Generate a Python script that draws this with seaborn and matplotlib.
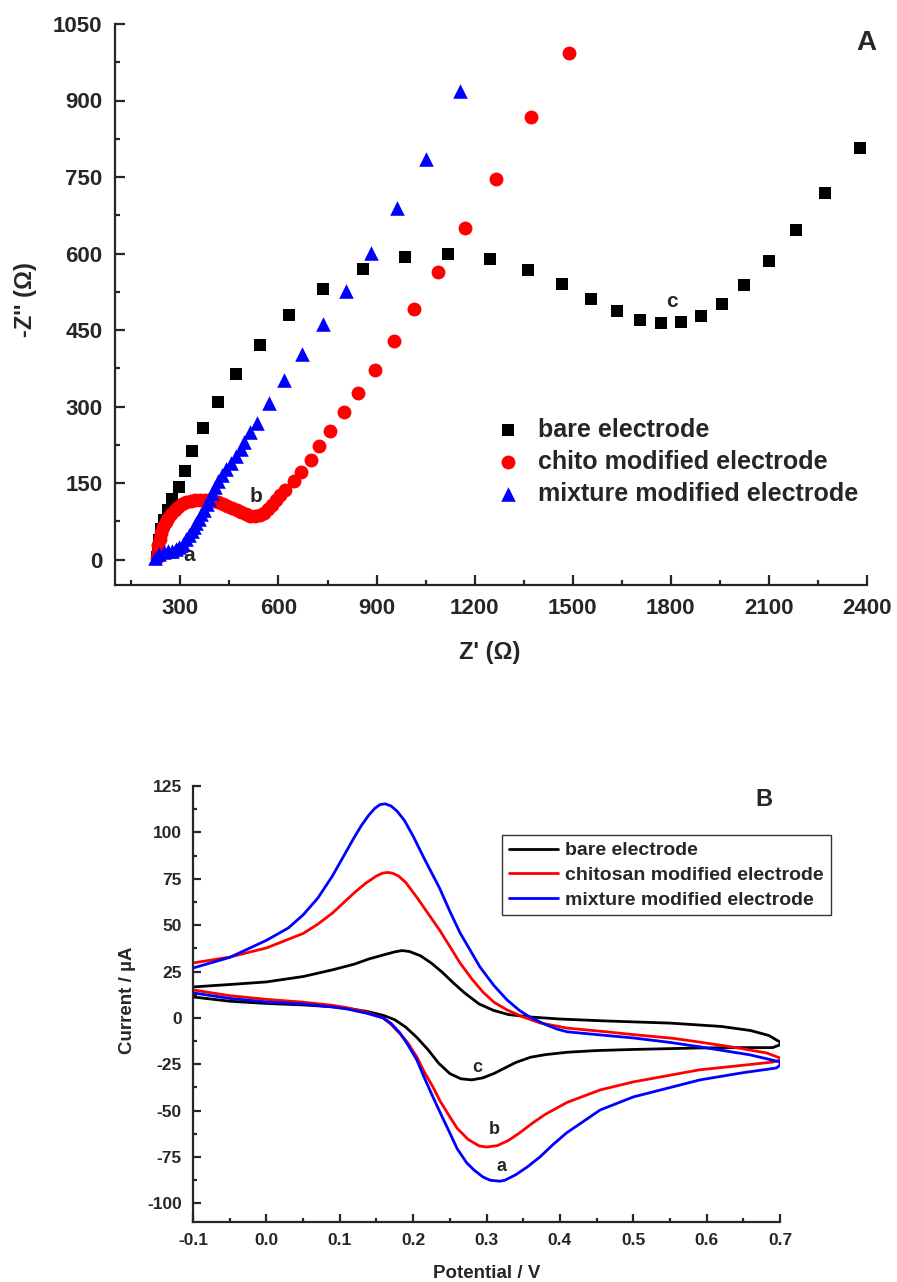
import numpy as np
import pandas as pd
import matplotlib
matplotlib.use("Agg")
import matplotlib.pyplot as plt
import seaborn as sns
from matplotlib.ticker import MultipleLocator

# ---------------- Panel A data (Nyquist) ----------------
bare_x = [227, 230, 236, 242, 251, 263, 275, 297, 315, 337, 370, 416, 471, 542, 631, 735, 857,
          986, 1117, 1246, 1362, 1466, 1555, 1635, 1705, 1769, 1830, 1892, 1956, 2023, 2100,
          2182, 2271, 2378]
bare_y = [4, 20, 39, 59, 78, 98, 118, 143, 174, 212, 257, 308, 364, 421, 480, 531, 570,
          594, 599, 590, 568, 541, 511, 488, 470, 464, 466, 478, 501, 539, 586,
          646, 719, 807]

chito_x = [227, 230, 233, 237, 242, 248, 255, 263, 272, 282, 293, 305, 318, 332, 346, 360, 374,
           388, 402, 416, 430, 444, 458, 472, 486, 500, 514, 528, 542, 556, 568, 580, 592, 604,
           621, 649, 670, 698, 725, 759, 799, 842, 894, 952, 1016, 1087, 1169, 1264, 1371, 1488]
chito_y = [3, 15, 28, 40, 52, 63, 73, 82, 90, 97, 103, 108, 112, 115, 117, 117, 117,
           116, 114, 112, 109, 105, 101, 97, 93, 89, 86, 85, 87, 92, 99, 107, 116, 126,
           137, 153, 172, 196, 223, 251, 290, 327, 372, 429, 492, 564, 650, 746, 868, 993]

mix_x = [222, 236, 250, 262, 275, 287, 297, 308, 318, 326, 334, 342, 349, 356, 364, 372, 380,
         389, 398, 407, 416, 428, 441, 456, 471, 484, 496, 514, 533, 572, 618, 673, 735, 805,
         882, 964, 1050, 1154]
mix_y = [3, 10, 14, 16, 17, 20, 24, 31, 40, 48, 56, 64, 72, 80, 89, 98, 108,
         119, 131, 142, 154, 166, 178, 190, 203, 217, 231, 250, 268, 307, 351, 402, 462, 527,
         601, 690, 786, 919]

labels_A = ["bare electrode", "chito modified electrode", "mixture modified electrode"]

# ---------------- Panel B data (CV) ----------------
bare_E = [-0.1, -0.05, 0.0, 0.05, 0.09, 0.12, 0.14, 0.16, 0.175, 0.185, 0.195, 0.21, 0.225,
          0.24, 0.255, 0.27, 0.29, 0.31, 0.33, 0.36, 0.4, 0.46, 0.55, 0.62, 0.66, 0.685, 0.7,
          0.7, 0.69, 0.65, 0.59, 0.5, 0.45, 0.41, 0.38, 0.36, 0.34, 0.325, 0.31, 0.295, 0.28,
          0.265, 0.25, 0.235, 0.22, 0.205, 0.19, 0.175, 0.16, 0.137, 0.11, 0.09, 0.05, 0.0,
          -0.05, -0.1]
bare_I = [16.7, 18.0, 19.4, 22.3, 25.9, 29.0, 31.8, 34.0, 35.6, 36.3, 35.8, 33.5, 29.5,
          24.5, 18.8, 13.5, 7.5, 4.0, 1.8, 0.5, -0.6, -1.6, -2.8, -4.6, -6.8, -9.5, -13.0,
          -14.5, -16.0, -16.0, -16.2, -17.0, -17.6, -18.5, -19.8, -21.2, -24.0, -27.0, -30.0,
          -32.3, -33.4, -32.8, -30.0, -24.5, -17.0, -10.5, -5.0, -1.0, 1.3, 3.5, 5.2, 6.0,
          7.0, 7.8, 9.0, 11.3]

chito_E = [-0.1, -0.05, 0.0, 0.05, 0.07, 0.09, 0.105, 0.12, 0.135, 0.15, 0.158, 0.165, 0.172,
           0.18, 0.19, 0.205, 0.22,
           0.236, 0.25, 0.264, 0.28, 0.295, 0.31, 0.328, 0.35, 0.373, 0.41, 0.464, 0.5, 0.554,
           0.59, 0.64, 0.682, 0.7,
           0.7, 0.69, 0.65, 0.59, 0.5, 0.455, 0.41, 0.38, 0.363, 0.345, 0.33, 0.315, 0.3, 0.29,
           0.275, 0.26, 0.25, 0.237, 0.227, 0.215, 0.205, 0.192, 0.182, 0.17, 0.159, 0.137,
           0.11, 0.09, 0.05, 0.0, -0.05, -0.1]
chito_I = [29.6, 32.8, 37.7, 45.5, 50.5, 56.5, 62.0, 67.5, 72.5, 76.5, 78.0, 78.4, 78.0,
           76.5, 73.0, 65.0, 56.5,
           47.4, 38.5, 29.6, 21.0, 14.0, 8.5, 4.3, 0.5, -2.7, -5.5, -7.5, -9.0, -11.0,
           -13.0, -16.0, -18.9, -21.6,
           -22.8, -23.8, -25.5, -28.0, -34.5, -38.8, -45.5, -52.0, -56.6, -62.0, -66.0, -68.8,
           -69.6, -69.0, -65.5, -59.5, -53.3, -45.0, -37.2, -29.0, -21.0, -13.0, -8.5, -3.5,
           0.0, 3.0, 5.5, 6.8, 8.5, 10.0, 12.0, 15.1]

mix_E = [-0.1, -0.05, 0.0, 0.03, 0.05, 0.07, 0.09, 0.105, 0.12, 0.13, 0.14, 0.148, 0.155,
         0.162, 0.17, 0.178, 0.188, 0.2, 0.215, 0.236, 0.25, 0.264, 0.28, 0.291, 0.31, 0.328,
         0.345, 0.359, 0.38, 0.396, 0.41, 0.464, 0.5, 0.55, 0.591, 0.659, 0.7,
         0.7, 0.695, 0.65, 0.591, 0.5, 0.455, 0.409, 0.39, 0.373, 0.355, 0.34, 0.325, 0.318,
         0.305, 0.295, 0.283, 0.273, 0.26, 0.25, 0.238, 0.227, 0.215, 0.205, 0.192, 0.182,
         0.17, 0.159, 0.137, 0.11, 0.09, 0.05, 0.0, -0.05, -0.1]
mix_I = [26.9, 32.6, 41.8, 48.5, 55.5, 64.5, 76.5, 87.0, 97.5, 104.0, 109.5, 113.0, 115.0,
         115.4, 114.2, 111.5, 106.5, 98.0, 86.0, 70.0, 57.5, 45.8, 35.0, 27.5, 17.5, 9.7,
         4.0, 0.5, -3.5, -6.0, -7.5, -9.5, -10.8, -13.2, -15.6, -19.9, -23.7,
         -25.5, -27.0, -29.5, -33.4, -42.6, -49.6, -62.0, -68.5, -74.9, -80.5, -84.5, -87.5,
         -88.0, -87.5, -85.7, -82.0, -78.1, -70.5, -62.0, -52.0, -42.6, -32.0, -22.6, -14.0,
         -8.1, -3.0, 0.0, 2.5, 4.8, 5.9, 7.5, 8.6, 10.5, 13.5]

labels_B = ["bare electrode", "chitosan modified electrode", "mixture modified electrode"]

# ---------------- style ----------------
sns.set_style("ticks")
plt.rcParams['font.family'] = ['Liberation Sans', 'DejaVu Sans']
plt.rcParams['font.weight'] = 'bold'
plt.rcParams['axes.labelweight'] = 'bold'
plt.rcParams['axes.linewidth'] = 1.6
plt.rcParams['axes.unicode_minus'] = False
plt.rcParams['xtick.direction'] = 'in'
plt.rcParams['ytick.direction'] = 'in'

W, H = 897, 1282
fig = plt.figure(figsize=(W / 100, H / 100), dpi=100)

axA = fig.add_axes([115 / W, 1 - 585 / H, 752 / W, 561 / H])
axB = fig.add_axes([193 / W, 1 - 1222 / H, 587 / W, 436 / H])

# ---------------- Panel A ----------------
sns.scatterplot(x=bare_x, y=bare_y, marker='s', color='black', s=85, linewidth=0,
                ax=axA, label=labels_A[0], zorder=3)
sns.scatterplot(x=chito_x, y=chito_y, marker='o', color='#ff0000', s=100, linewidth=0,
                ax=axA, label=labels_A[1], zorder=4)
sns.scatterplot(x=mix_x, y=mix_y, marker='^', color='#0000ff', s=110, linewidth=0,
                ax=axA, label=labels_A[2], zorder=5)

axA.set_xlim(100, 2400)
axA.set_ylim(-50, 1050)
axA.xaxis.set_major_locator(MultipleLocator(300))
axA.xaxis.set_minor_locator(MultipleLocator(150))
axA.yaxis.set_major_locator(MultipleLocator(150))
axA.yaxis.set_minor_locator(MultipleLocator(75))
axA.tick_params(which='major', length=7, width=1.6, labelsize=16, pad=9)
axA.tick_params(which='minor', length=3.5, width=1.6)
for lab in axA.get_xticklabels() + axA.get_yticklabels():
    lab.set_fontweight('bold')
axA.set_xlabel("Z' (\u03a9)", fontsize=17, fontweight='bold')
axA.set_ylabel("-Z'' (\u03a9)", fontsize=17, fontweight='bold')
axA.xaxis.set_label_coords(0.4987, -0.100)
axA.yaxis.set_label_coords(-0.104, 0.508)
sns.despine(ax=axA)

legA = axA.legend(loc='upper left', bbox_to_anchor=(0.489, 0.3155), frameon=False,
                  fontsize=18, handletextpad=0.6, labelspacing=0.32, borderaxespad=0,
                  handlelength=1.2)
for t in legA.get_texts():
    t.set_fontweight('bold')

axA.text(328, 8, 'a', fontsize=15, fontweight='bold', ha='center', va='center')
axA.text(530, 123, 'b', fontsize=15, fontweight='bold', ha='center', va='center')
axA.text(1803, 505, 'c', fontsize=15, fontweight='bold', ha='center', va='center')
axA.text(2397, 1012, 'A', fontsize=20, fontweight='bold', ha='center', va='center')

# ---------------- Panel B ----------------
sns.lineplot(x=bare_E, y=bare_I, sort=False, estimator=None, color='black', lw=2.0,
             ax=axB, label=labels_B[0])
sns.lineplot(x=chito_E, y=chito_I, sort=False, estimator=None, color='#ff0000', lw=2.0,
             ax=axB, label=labels_B[1])
sns.lineplot(x=mix_E, y=mix_I, sort=False, estimator=None, color='#0000ff', lw=2.0,
             ax=axB, label=labels_B[2])

axB.set_xlim(-0.1, 0.7)
axB.set_ylim(-110, 125)
axB.xaxis.set_major_locator(MultipleLocator(0.1))
axB.xaxis.set_minor_locator(MultipleLocator(0.05))
axB.yaxis.set_major_locator(MultipleLocator(25))
axB.yaxis.set_minor_locator(MultipleLocator(12.5))
axB.tick_params(which='major', length=6, width=1.6, labelsize=12.5, pad=8)
axB.tick_params(which='minor', length=3, width=1.6)
for lab in axB.get_xticklabels() + axB.get_yticklabels():
    lab.set_fontweight('bold')
axB.set_xlabel("Potential / V", fontsize=13.5, fontweight='bold')
axB.set_ylabel("Current / \u00b5A", fontsize=13.5, fontweight='bold')
axB.xaxis.set_label_coords(0.501, -0.0986)
axB.yaxis.set_label_coords(-0.097, 0.509)
sns.despine(ax=axB)

legB = axB.legend(loc='upper left', bbox_to_anchor=(0.5264, 0.8876), frameon=True,
                  fontsize=14, handletextpad=0.35, labelspacing=0.36, borderaxespad=0,
                  handlelength=2.55, borderpad=0.35, fancybox=False, edgecolor='black')
legB.get_frame().set_linewidth(1.0)
for t in legB.get_texts():
    t.set_fontweight('bold')

axB.text(0.287, -26.9, 'c', fontsize=13, fontweight='bold', ha='center', va='center')
axB.text(0.311, -60.3, 'b', fontsize=13, fontweight='bold', ha='center', va='center')
axB.text(0.321, -80.2, 'a', fontsize=13, fontweight='bold', ha='center', va='center')
axB.text(0.6785, 117.5, 'B', fontsize=17, fontweight='bold', ha='center', va='center')

fig.savefig("out.png", dpi=100)
